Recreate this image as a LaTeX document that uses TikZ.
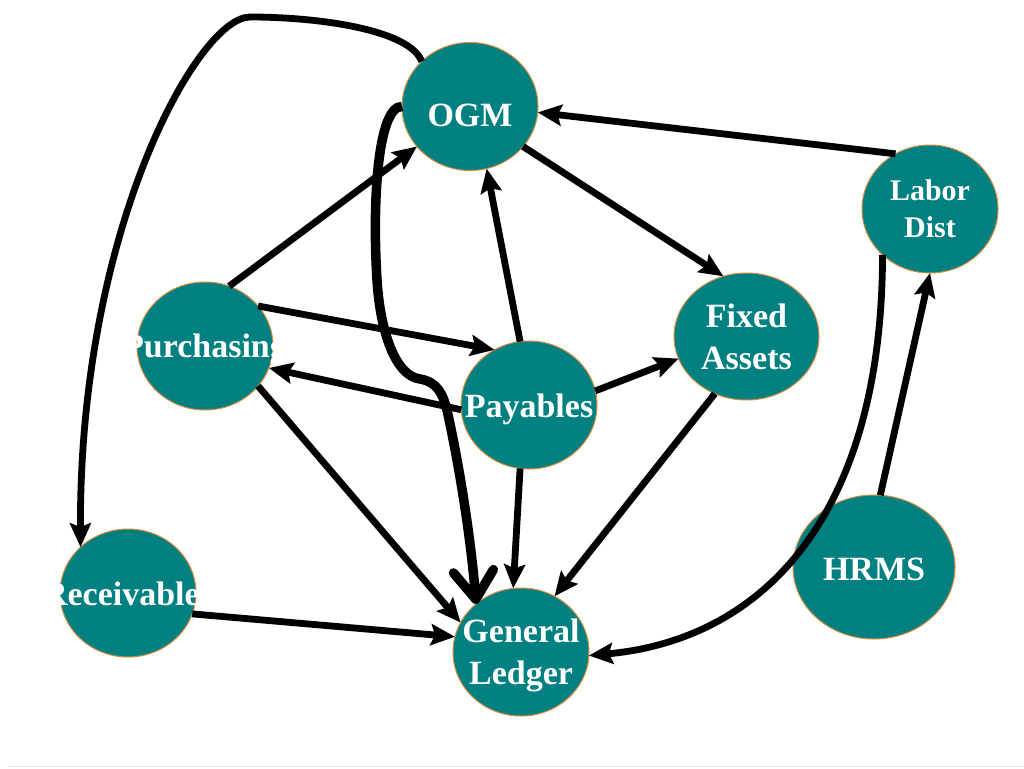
\documentclass[tikz,border=0pt]{standalone}
\usepackage{fontspec}
\setmainfont{Liberation Serif}
\usetikzlibrary{arrows.meta,shapes.geometric}
\definecolor{tealfill}{RGB}{0,128,128}
\definecolor{rimcol}{RGB}{214,140,60}
\begin{document}
\begin{tikzpicture}[x=1pt,y=-1pt,
  sys/.style={ellipse, fill=tealfill, draw=rimcol, line width=1pt, inner sep=0pt, outer sep=0pt,
    minimum width=136pt, minimum height=128pt, text=white,
    font=\fontsize{34}{42}\selectfont\bfseries},
  link/.style={line width=6.8pt, -{Stealth[length=24pt,width=21pt,inset=4pt]}},
  biglink/.style={line width=9.5pt, -{Straight Barb[length=28pt,width=40pt,round]}}]
\useasboundingbox (0,0) rectangle (1024,768);
\fill[white] (0,0) rectangle (1024,768);
\draw[gray!22, line width=1pt] (8,766.5) -- (1024,766.5);

% systems
\node[sys, text height=39pt, text depth=0pt] (ogm) at (470,106.5) {\makebox[0pt]{OGM}};
\node[sys, align=center, font=\fontsize{30}{37}\selectfont\bfseries] (lab) at (930,209)
  {\makebox[0pt]{Labor}\\\makebox[0pt]{Dist}};
\node[sys, align=center, minimum width=145pt, minimum height=127pt] (fix) at (746.5,336.5)
  {\makebox[0pt]{Fixed}\\\makebox[0pt]{Assets}};
\node[sys, text height=22pt, text depth=0pt] (pur) at (205,346) {\makebox[0pt]{Purchasing}};
\node[sys, text height=24pt, text depth=0pt] (pay) at (529,405) {\makebox[0pt]{Payables}};
\node[sys, text height=24pt, text depth=0pt] (rec) at (128,593) {\makebox[0pt]{Receivables}};
\node[sys, align=center] (gl) at (521,652)
  {\rule{0pt}{31pt}\makebox[0pt]{General}\\\makebox[0pt]{Ledger}};
\node[sys, text height=26pt, text depth=0pt, minimum width=162pt, minimum height=144pt] (hr) at (874,567) {\makebox[0pt]{HRMS}};

% connectors
\draw[link] (ogm.137) .. controls (410,30) and (320,17) .. (250,17)
  .. controls (198,17) and (79,230) .. (rec.136);
\draw[biglink] (ogm.180) .. controls (378,106) and (372,200) .. (377,280)
  .. controls (380,330) and (395,376) .. (420,379)
  .. controls (438,382) and (443,395) .. (447,410)
  .. controls (458,460) and (470,530) .. (gl.133);
\draw[link] (pur.68) -- (ogm.217);
\draw[link] (pur.37) -- (pay.122);
\draw[link] (pay.184) -- (pur.341);
\draw[link] (pur.323) -- (gl.154);
\draw[link] (pay.98) -- (ogm.285);
\draw[link] (pay.12) -- (fix.198);
\draw[link] (pay.262) -- (gl.97);
\draw[link] (ogm.323) -- (fix.111);
\draw[link] (lab.122) -- (ogm.355);
\draw[link] (fix.241) -- (gl.59);
\draw[link] (lab.224) .. controls (882,520) and (760,640) .. (gl.357);
\draw[link] (hr.85) -- (lab.270);
\draw[link] (rec.342) -- (gl.167);
\end{tikzpicture}
\end{document}
